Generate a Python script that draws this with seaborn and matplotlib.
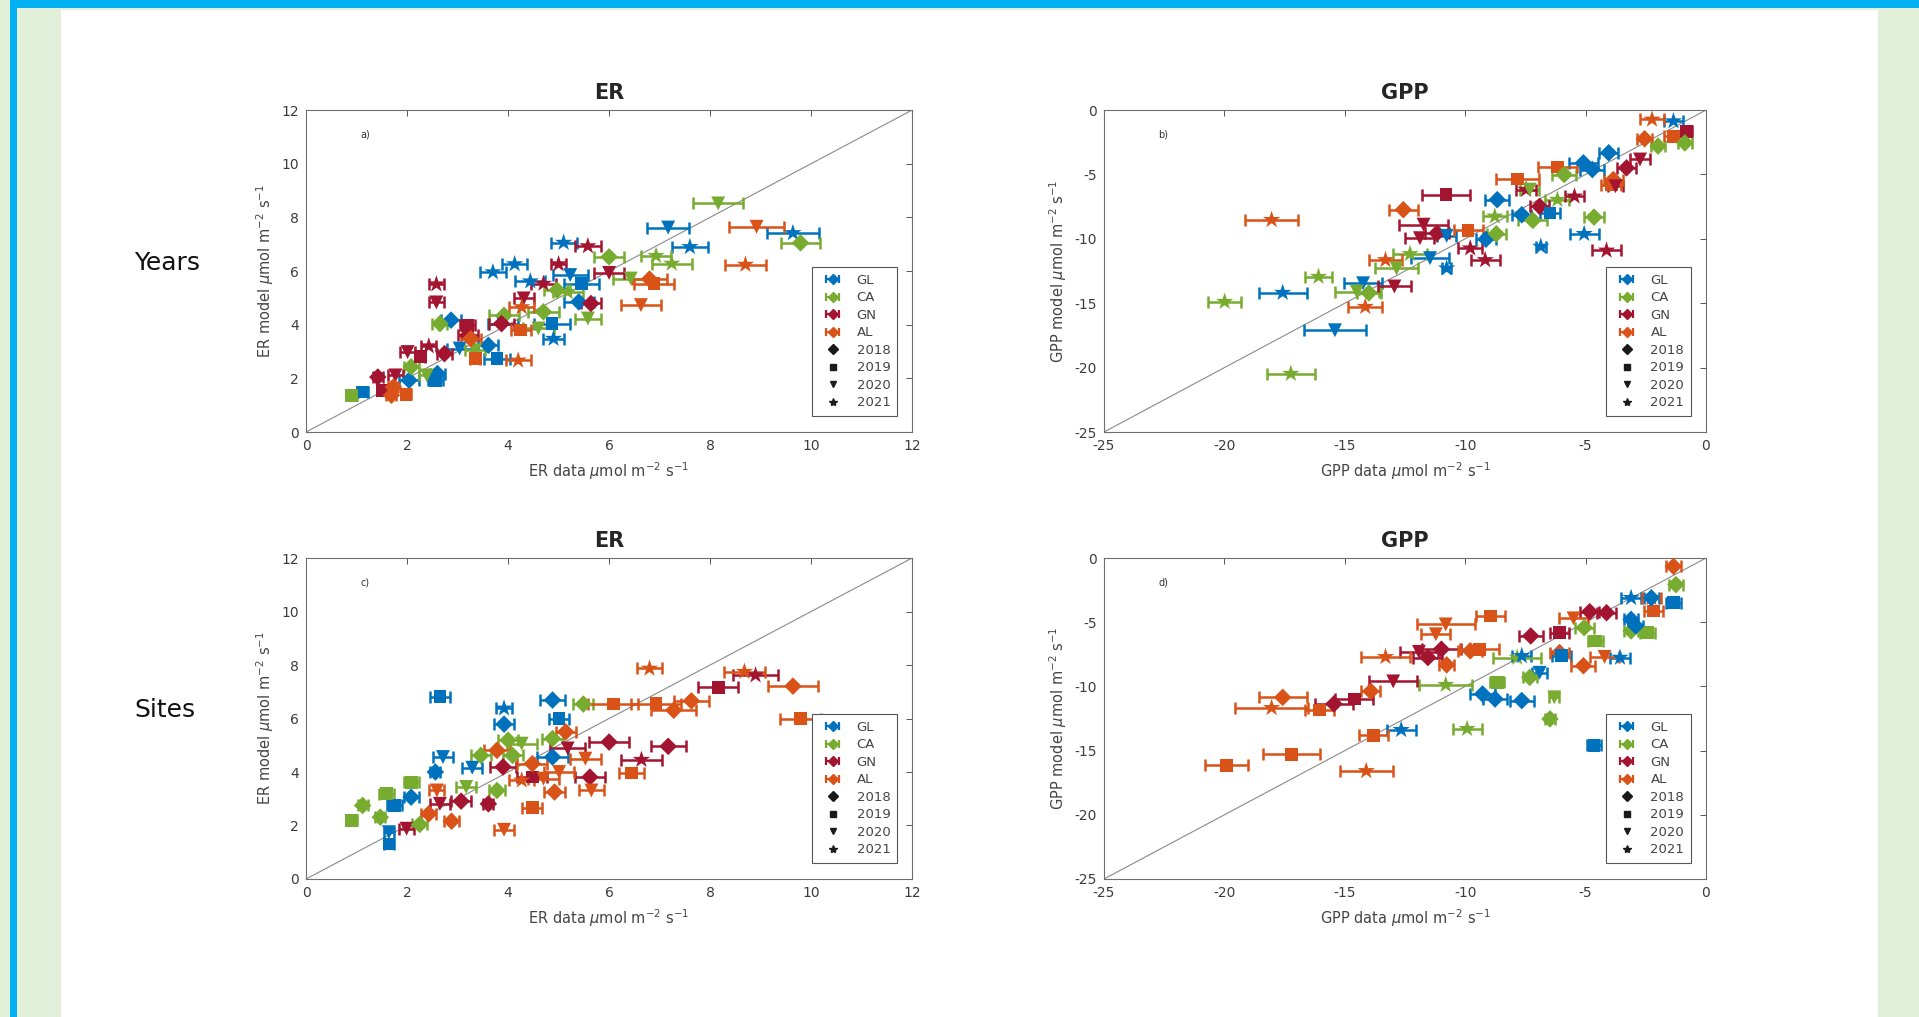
"""ER / GPP model vs data scatter panels (years and sites)."""

import matplotlib.pyplot as plt
import pandas as pd
import seaborn as sns
from matplotlib.lines import Line2D
from matplotlib.patches import Rectangle

SITES = ["GL", "CA", "GN", "AL"]
YEARS = [2018, 2019, 2020, 2021]
SITE_COLORS = {"GL": "#0072BD", "CA": "#77AC30", "GN": "#A2142F", "AL": "#D95319"}
YEAR_MARKERS = {2018: "D", 2019: "s", 2020: "v", 2021: "*"}
YEAR_SIZES = {2018: 80, 2019: 85, 2020: 100, 2021: 170}

# a) ER, years
A_X = [5.10, 7.17, 9.64, 7.60, 4.13, 3.70, 5.23, 5.45, 4.44, 5.40, 4.90, 4.87, 3.90, 2.87, 3.04,
       3.61, 3.78, 2.04, 2.56, 1.12, 2.60,
       8.16, 9.79, 6.93, 7.24, 6.00, 6.43, 4.97, 5.18, 5.58, 4.70, 3.92, 4.60, 2.65, 3.35, 2.08,
       2.39, 0.90,
       2.58, 2.58, 5.58, 5.00, 6.00, 4.70, 5.64, 4.31, 3.87, 3.20, 3.20, 2.01, 2.43, 2.74, 2.26,
       1.42, 1.77, 1.51,
       8.92, 8.70, 6.80, 6.89, 6.63, 4.27, 4.20, 3.35, 3.26, 1.73, 1.98, 1.69, 4.25]
A_Y = [7.06, 7.62, 7.42, 6.90, 6.26, 5.96, 5.85, 5.53, 5.62, 4.85, 3.48, 4.04, 4.04, 4.17, 3.11,
       3.23, 2.74, 1.93, 1.93, 1.49, 2.18,
       8.52, 7.05, 6.57, 6.28, 6.53, 5.72, 5.29, 5.22, 4.23, 4.48, 4.35, 3.86, 4.04, 3.05, 2.43,
       2.11, 1.37,
       5.51, 4.83, 6.93, 6.26, 5.93, 5.53, 4.79, 4.98, 4.04, 3.98, 3.60, 2.98, 3.20, 2.92, 2.80,
       2.05, 2.11, 1.55,
       7.65, 6.24, 5.70, 5.53, 4.73, 4.66, 2.67, 2.74, 3.48, 1.68, 1.40, 1.37, 3.80]
A_ERR = [0.26, 0.42, 0.52, 0.35, 0.25, 0.25, 0.35, 0.35, 0.30, 0.30, 0.20, 0.35, 0.30, 0.20, 0.25,
         0.20, 0.25, 0.20, 0.15, 0.10, 0.15,
         0.50, 0.38, 0.30, 0.40, 0.30, 0.35, 0.25, 0.30, 0.25, 0.30, 0.30, 0.30, 0.15, 0.20, 0.15,
         0.15, 0.10,
         0.15, 0.15, 0.25, 0.15, 0.30, 0.25, 0.20, 0.20, 0.25, 0.15, 0.20, 0.15, 0.15, 0.15, 0.10,
         0.10, 0.15, 0.10,
         0.55, 0.40, 0.35, 0.40, 0.40, 0.25, 0.25, 0.10, 0.20, 0.10, 0.10, 0.10, 0.20]
A_SITE = ["GL"] * 21 + ["CA"] * 17 + ["GN"] * 18 + ["AL"] * 13
A_YEAR = [2021, 2020, 2021, 2021, 2021, 2021, 2020, 2019, 2021, 2018, 2021, 2019, 2020, 2018, 2020,
          2018, 2019, 2018, 2019, 2019, 2018,
          2020, 2018, 2021, 2021, 2018, 2020, 2018, 2021, 2020, 2018, 2018, 2020, 2018, 2020, 2018,
          2020, 2019,
          2021, 2020, 2021, 2021, 2020, 2021, 2018, 2020, 2018, 2019, 2018, 2020, 2021, 2018, 2019,
          2018, 2020, 2019,
          2020, 2021, 2018, 2019, 2020, 2021, 2021, 2019, 2018, 2018, 2019, 2018, 2019]

# b) GPP, years
B_X = [-18.04, -12.57, -7.84, -6.17, -9.88, -13.31, -14.15, -2.24, -2.55, -1.35, -3.94, -3.85,
       -10.80, -11.73, -11.88, -11.17, -9.79, -9.17, -4.13, -12.94, -5.46, -6.91, -0.80, -2.74,
       -3.30, -3.76, -7.47,
       -15.41, -17.58, -14.24, -11.46, -10.77, -10.77, -8.67, -9.14, -5.09, -4.72, -5.06, -6.86,
       -4.04, -1.35, -6.48, -7.65,
       -17.24, -19.99, -16.09, -14.50, -12.85, -12.29, -8.77, -8.71, -4.65, -7.32, -7.19, -6.17,
       -5.89, -0.88, -1.99, -14.00]
B_Y = [-8.52, -7.74, -5.35, -4.42, -9.35, -11.64, -15.27, -0.73, -2.23, -2.03, -5.79, -5.40,
       -6.57, -8.90, -9.95, -9.56, -10.73, -11.64, -10.90, -13.70, -6.70, -7.48, -1.64, -3.84,
       -4.49, -5.92, -6.18,
       -17.10, -14.18, -13.45, -11.50, -12.29, -9.77, -6.96, -10.03, -4.10, -4.62, -9.61, -10.60,
       -3.32, -0.86, -8.00, -8.13,
       -20.47, -14.88, -12.94, -14.10, -12.29, -11.17, -8.26, -9.61, -8.31, -6.18, -8.57, -6.96,
       -5.01, -2.55, -2.80, -14.20]
B_ERR = [1.10, 0.60, 0.90, 0.80, 0.60, 0.70, 0.70, 0.50, 0.30, 0.40, 0.40, 0.40,
         1.00, 1.00, 0.60, 0.50, 0.50, 0.60, 0.60, 0.70, 0.40, 0.40, 0.20, 0.40,
         0.40, 0.30, 0.40,
         1.30, 1.00, 0.80, 0.80, 0.20, 0.40, 0.50, 0.40, 0.60, 0.50, 0.60, 0.20,
         0.40, 0.40, 0.40, 0.40,
         1.00, 0.70, 0.55, 0.90, 0.90, 0.70, 0.50, 0.40, 0.40, 0.40, 0.60, 0.50,
         0.50, 0.30, 0.30, 0.50]
B_SITE = ["AL"] * 12 + ["GN"] * 15 + ["GL"] * 16 + ["CA"] * 16
B_YEAR = [2021, 2018, 2019, 2019, 2019, 2021, 2021, 2021, 2018, 2019, 2019, 2018,
          2019, 2020, 2020, 2018, 2021, 2021, 2021, 2020, 2021, 2018, 2019, 2020,
          2018, 2020, 2021,
          2020, 2021, 2020, 2020, 2021, 2020, 2018, 2018, 2018, 2018, 2021, 2021,
          2018, 2021, 2019, 2018,
          2021, 2021, 2021, 2020, 2020, 2021, 2021, 2018, 2018, 2020, 2018, 2021,
          2018, 2018, 2018, 2018]

# c) ER, sites
C_X = [2.65, 4.88, 3.92, 3.92, 5.01, 2.71, 2.56, 3.29, 2.08, 1.75, 1.64, 1.64, 4.88,
       8.16, 8.90, 6.00, 7.17, 6.64, 5.18, 3.90, 3.61, 3.07, 2.65, 1.99, 5.62, 4.48,
       5.49, 4.88, 4.00, 4.27, 4.09, 3.46, 3.78, 3.17, 1.12, 1.47, 0.90, 1.60, 2.08, 2.25,
       6.80, 8.68, 9.64, 9.79, 7.63, 6.93, 7.28, 6.08, 6.45, 5.14, 5.65, 5.53, 5.01, 4.48,
       3.78, 4.92, 4.48, 3.92, 2.88, 2.59, 2.43, 4.27, 4.70]
C_Y = [6.81, 6.69, 6.38, 5.79, 6.00, 4.56, 4.00, 4.16, 3.06, 2.75, 1.75, 1.31, 4.56,
       7.16, 7.62, 5.12, 4.96, 4.46, 4.88, 4.19, 2.81, 2.91, 2.81, 1.88, 3.81, 3.81,
       6.54, 5.25, 5.19, 5.06, 4.62, 4.62, 3.31, 3.44, 2.75, 2.31, 2.19, 3.19, 3.62, 2.04,
       7.87, 7.75, 7.21, 6.00, 6.66, 6.56, 6.31, 6.54, 3.96, 5.50, 3.31, 4.50, 4.00, 4.31,
       4.81, 3.25, 2.66, 1.84, 2.16, 3.31, 2.44, 3.69, 3.75]
C_ERR = [0.20, 0.25, 0.15, 0.20, 0.20, 0.20, 0.10, 0.20, 0.15, 0.15, 0.10, 0.10, 0.30,
         0.40, 0.45, 0.40, 0.35, 0.40, 0.35, 0.25, 0.10, 0.20, 0.20, 0.15, 0.30, 0.30,
         0.20, 0.20, 0.20, 0.30, 0.20, 0.20, 0.15, 0.20, 0.10, 0.10, 0.10, 0.15, 0.15, 0.15,
         0.25, 0.40, 0.50, 0.40, 0.35, 0.50, 0.45, 0.50, 0.25, 0.20, 0.25, 0.30, 0.30, 0.30,
         0.25, 0.20, 0.20, 0.20, 0.15, 0.15, 0.15, 0.25, 0.30]
C_SITE = ["GL"] * 13 + ["GN"] * 13 + ["CA"] * 14 + ["AL"] * 23
C_YEAR = [2019, 2018, 2021, 2018, 2019, 2020, 2018, 2020, 2018, 2019, 2020, 2019, 2018,
          2019, 2021, 2018, 2018, 2021, 2020, 2018, 2018, 2018, 2020, 2020, 2018, 2019,
          2018, 2018, 2018, 2020, 2018, 2018, 2018, 2020, 2018, 2018, 2019, 2019, 2019, 2018,
          2021, 2021, 2018, 2019, 2018, 2019, 2018, 2019, 2019, 2018, 2020, 2020, 2020, 2018,
          2018, 2018, 2019, 2020, 2018, 2020, 2018, 2021, 2020]

# d) GPP, sites
D_X = [-1.35, -19.90, -17.21, -14.11, -13.81, -18.04, -17.58, -16.04, -13.92, -13.31, -10.81,
       -11.22, -8.95, -10.77, -9.41, -9.79, -5.09, -4.21, -5.50, -2.18, -2.27, -6.08,
       -4.83, -4.13, -7.28, -10.99, -11.92, -11.55, -12.99, -15.45, -14.61, -6.08,
       -1.25, -2.42, -3.11, -5.06, -4.59, -7.84, -10.81, -8.67, -7.32, -6.30, -6.48, -9.92,
       -4.65, -12.66, -9.28, -8.76, -7.65, -6.91, -7.65, -3.11, -2.92, -3.57, -6.00, -3.11,
       -2.27, -1.35]
D_Y = [-0.65, -16.14, -15.29, -16.58, -13.82, -11.67, -10.85, -11.83, -10.38, -7.70, -5.17,
       -5.94, -4.52, -8.32, -7.10, -7.23, -8.39, -7.70, -4.70, -4.13, -3.10, -7.36,
       -4.18, -4.26, -6.07, -7.10, -7.31, -7.75, -9.61, -11.36, -10.98, -5.81,
       -2.07, -5.81, -5.68, -5.42, -6.46, -7.75, -9.87, -9.69, -9.30, -10.85, -12.53, -13.30,
       -14.59, -13.38, -10.59, -10.98, -11.10, -8.94, -7.62, -4.78, -5.29, -7.75, -7.62, -3.10,
       -3.10, -3.49]
D_ERR = [0.30, 0.90, 1.20, 1.10, 0.60, 1.50, 1.00, 0.60, 0.40, 1.00, 1.20,
         0.60, 0.60, 0.30, 0.80, 0.50, 0.50, 0.60, 0.60, 0.40, 0.40, 0.40,
         0.40, 0.40, 0.50, 0.80, 0.80, 0.60, 1.00, 0.80, 0.80, 0.40,
         0.30, 0.30, 0.30, 0.40, 0.30, 1.00, 1.10, 0.30, 0.30, 0.20, 0.20, 0.60,
         0.30, 0.60, 0.50, 0.50, 0.50, 0.30, 0.40, 0.30, 0.30, 0.40, 0.40, 0.40,
         0.30, 0.30]
D_SITE = ["AL"] * 22 + ["GN"] * 10 + ["CA"] * 12 + ["GL"] * 14
D_YEAR = [2018, 2019, 2019, 2021, 2019, 2021, 2018, 2019, 2018, 2021, 2020,
          2020, 2019, 2018, 2019, 2018, 2018, 2020, 2020, 2019, 2021, 2018,
          2018, 2018, 2018, 2018, 2020, 2018, 2020, 2018, 2019, 2019,
          2018, 2019, 2018, 2018, 2019, 2021, 2021, 2019, 2018, 2020, 2018, 2021,
          2019, 2021, 2018, 2018, 2018, 2020, 2021, 2018, 2018, 2021, 2019, 2021,
          2018, 2019]

TICK_COLOR = "#3c3c3c"


def draw_panel(ax, x, y, err, site, year, lims, ticks, name, tag):
    df = pd.DataFrame({"x": x, "y": y, "err": err, "site": site, "year": year})

    ax.plot(lims, lims, color="#8a8a8a", linewidth=0.8, zorder=1)

    for s in SITES:
        g = df[df["site"] == s]
        ax.errorbar(g["x"], g["y"], xerr=g["err"], fmt="none", ecolor=SITE_COLORS[s],
                    elinewidth=1.8, capsize=4.5, capthick=1.8, zorder=2)

    sns.scatterplot(data=df, x="x", y="y", hue="site", style="year", size="year",
                    palette=SITE_COLORS, markers=YEAR_MARKERS, sizes=YEAR_SIZES,
                    hue_order=SITES, linewidth=0, legend=False, ax=ax, zorder=3)

    ax.set_xlim(lims)
    ax.set_ylim(lims)
    ax.set_xticks(ticks)
    ax.set_yticks(ticks)
    ax.tick_params(direction="in", top=True, right=True, length=4, width=0.7,
                   labelsize=10, labelcolor=TICK_COLOR, color="#555555", pad=5)
    for sp in ax.spines.values():
        sp.set_color("#6e6e6e")
        sp.set_linewidth(0.8)

    unit = r"$\mu$mol m$^{-2}$ s$^{-1}$"
    ax.set_xlabel(f"{name} data {unit}", fontsize=10.5, color="#444444", labelpad=5)
    ax.set_ylabel(f"{name} model {unit}", fontsize=10.5, color="#444444", labelpad=4)
    ax.set_title(name, fontsize=15, fontweight="bold", pad=8)
    ax.text(0.09, 0.915, tag, transform=ax.transAxes, fontsize=7, color="#333333")

    # legend: sites as errorbars, years as black markers
    handles = []
    for s in SITES:
        h = ax.errorbar([float("nan")], [float("nan")], xerr=[1.0], fmt="D",
                        color=SITE_COLORS[s], markersize=5, elinewidth=1.6,
                        capsize=3, capthick=1.6)
        handles.append(h)
    for yr in YEARS:
        handles.append(Line2D([], [], marker=YEAR_MARKERS[yr], color="k", linestyle="none",
                              markersize=5 if yr != 2021 else 6))
    labels = SITES + [str(yr) for yr in YEARS]
    leg = ax.legend(handles, labels, loc="lower right", bbox_to_anchor=(0.986, 0.03),
                    fontsize=9.5, frameon=True, fancybox=False, framealpha=1,
                    edgecolor="#555555", handlelength=2.2, handletextpad=0.7,
                    labelspacing=0.34, borderpad=0.5)
    leg.get_frame().set_linewidth(0.8)
    for t in leg.get_texts():
        t.set_color("#444444")


sns.set_theme(style="white")
plt.rcParams["font.family"] = ["DejaVu Sans"]
plt.rcParams["axes.unicode_minus"] = False

fig = plt.figure(figsize=(19.19, 10.17), dpi=100)
fig.patch.set_facecolor("white")

# page frame
green = "#e2efd9"
blue = "#00b0f0"
for rect in [
    (0.0, 0.0, 0.0318, 1.0, green),
    (0.9786, 0.0, 0.0214, 0.990, green),
    (0.0, 0.990, 1.0, 0.010, green),
    (0.0052, 0.0, 0.0037, 1.0, blue),
    (0.0052, 0.9921, 0.9948, 0.0079, blue),
]:
    fig.add_artist(Rectangle(rect[:2], rect[2], rect[3], transform=fig.transFigure,
                             facecolor=rect[4], edgecolor="none", zorder=0))

ax_a = fig.add_axes([0.1595, 0.5752, 0.3158, 0.3166])
ax_b = fig.add_axes([0.5753, 0.5752, 0.3137, 0.3166])
ax_c = fig.add_axes([0.1595, 0.1357, 0.3158, 0.3156])
ax_d = fig.add_axes([0.5753, 0.1357, 0.3137, 0.3156])

er_ticks = [0, 2, 4, 6, 8, 10, 12]
gpp_ticks = [-25, -20, -15, -10, -5, 0]
draw_panel(ax_a, A_X, A_Y, A_ERR, A_SITE, A_YEAR, (0, 12), er_ticks, "ER", "a)")
draw_panel(ax_b, B_X, B_Y, B_ERR, B_SITE, B_YEAR, (-25, 0), gpp_ticks, "GPP", "b)")
draw_panel(ax_c, C_X, C_Y, C_ERR, C_SITE, C_YEAR, (0, 12), er_ticks, "ER", "c)")
draw_panel(ax_d, D_X, D_Y, D_ERR, D_SITE, D_YEAR, (-25, 0), gpp_ticks, "GPP", "d)")

fig.text(0.070, 0.741, "Years", fontsize=18, va="center", ha="left", color="#111111")
fig.text(0.070, 0.302, "Sites", fontsize=18, va="center", ha="left", color="#111111")

fig.savefig("out.png", dpi=100, facecolor="white")
